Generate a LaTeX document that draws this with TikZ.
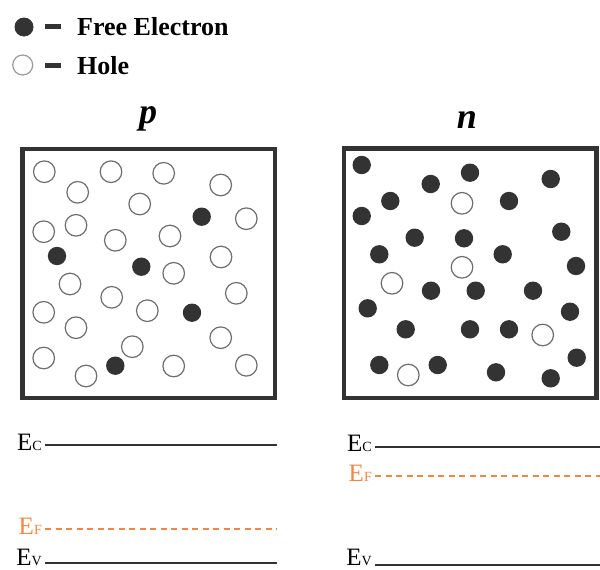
\documentclass[tikz,border=0pt]{standalone}
\usepackage{fontspec}
\setmainfont{Liberation Serif}
\usepackage{tikz}

\definecolor{carrier}{RGB}{51,51,51}
\definecolor{holeline}{RGB}{110,110,110}
\definecolor{fermi}{RGB}{240,135,70}

\tikzset{
  electron/.style={fill=carrier,draw=none},
  hole/.style={draw=holeline,line width=1.2pt,fill=white},
  crystal/.style={draw=carrier,line width=4.5pt},
  level/.style={draw=carrier,line width=1.6pt},
  fermilevel/.style={draw=fermi,line width=1.4pt,dash pattern=on 6pt off 4.5pt},
  elabel/.style={anchor=base east,inner sep=0pt,xshift=-3pt,yshift=-5pt},
  legendtxt/.style={anchor=base west,inner sep=0pt,font=\fontsize{26}{26}\selectfont\bfseries},
  titletxt/.style={anchor=base,inner sep=0pt,font=\fontsize{36}{36}\selectfont\bfseries\itshape}
}

\newcommand{\elev}[1]{E{\fontsize{14}{14}\selectfont #1}}

\begin{document}
\begin{tikzpicture}[x=1pt,y=-1pt,font=\fontsize{25}{25}\selectfont]
\useasboundingbox (0,0) rectangle (600,570);

% Legend
\fill[electron] (24,27) circle (9.5);
\draw[line width=5pt,carrier] (45,26) -- (61,26);
\node[legendtxt] (lelec) at (77,35) {Free Electron};
\draw[draw=gray!80,line width=1.2pt] (22.7,65) circle (10);
\draw[line width=5pt,carrier] (45,65) -- (61,65);
\node[legendtxt] (lhole) at (77,74) {Hole};

% Titles
\node[titletxt] (ptitle) at (148,123) {p};
\node[titletxt] (ntitle) at (467,128) {n};

% p-type crystal
\draw[crystal] (22.7,149) rectangle (275,398);
\foreach \x/\y in {44.3/171.7, 77.7/192.3, 111/171.7, 163.7/173.3, 139.7/204,
  220.7/185, 246.3/218.7, 43.7/231.7, 76/225.3, 115.3/240.3, 170/236,
  221/257, 70/284, 173.7/273.3, 111.7/297.3, 236.3/293.3, 43.7/312.3,
  147.3/310.7, 76/327.7, 132.3/346.7, 220.7/337.7, 43.7/358, 86/376,
  173.7/366, 246.3/365.3}
  \draw[hole] (\x,\y) circle (10.8);
\foreach \x/\y in {201.7/216.7, 57/256, 141.3/266.7, 192/312.7, 115.3/365.7}
  \fill[electron] (\x,\y) circle (9.2);

% n-type crystal
\draw[crystal] (344,148.3) rectangle (596.7,398);
\foreach \x/\y in {361.7/165, 430.7/184, 470/172.7, 550.7/179, 390.3/201,
  509/201, 361.7/216, 561.3/231.7, 414.7/237.7, 464/238.3, 379.3/254.3,
  502.7/254.3, 576/266, 431/290.7, 475.7/290.7, 533/290.7, 367.7/308.3,
  570/311.7, 405.7/329.3, 470/329.3, 509/329.3, 576.7/357.7, 379.3/365,
  437.7/365, 496/372.3, 550.7/378.3}
  \fill[electron] (\x,\y) circle (9.2);
\foreach \x/\y in {462/203.3, 462/267.3, 392/283.3, 542.7/335, 408.3/375}
  \draw[hole] (\x,\y) circle (10.8);

% Band diagram, p side
\coordinate (pc1) at (45,445);
\coordinate (pc2) at (277,445);
\coordinate (pf1) at (45,529);
\coordinate (pf2) at (277,529);
\coordinate (pv1) at (45,562.7);
\coordinate (pv2) at (277,562.7);
\draw[level] (pc1) -- (pc2);
\draw[fermilevel] (pf1) -- (pf2);
\draw[level] (pv1) -- (pv2);
\node[elabel] (pEc) at (pc1) {\elev{C}};
\node[elabel,text=fermi] (pEf) at (pf1) {\elev{F}};
\node[elabel,yshift=2pt] (pEv) at (pv1) {\elev{V}};

% Band diagram, n side
\coordinate (nc1) at (375,446.7);
\coordinate (nc2) at (600,446.7);
\coordinate (nf1) at (375,476);
\coordinate (nf2) at (600,476);
\coordinate (nv1) at (375,565);
\coordinate (nv2) at (600,565);
\draw[level] (nc1) -- (nc2);
\draw[fermilevel] (nf1) -- (nf2);
\draw[level] (nv1) -- (nv2);
\node[elabel] (nEc) at (nc1) {\elev{C}};
\node[elabel,text=fermi] (nEf) at (nf1) {\elev{F}};
\node[elabel,yshift=5pt] (nEv) at (nv1) {\elev{V}};
\end{tikzpicture}
\end{document}
